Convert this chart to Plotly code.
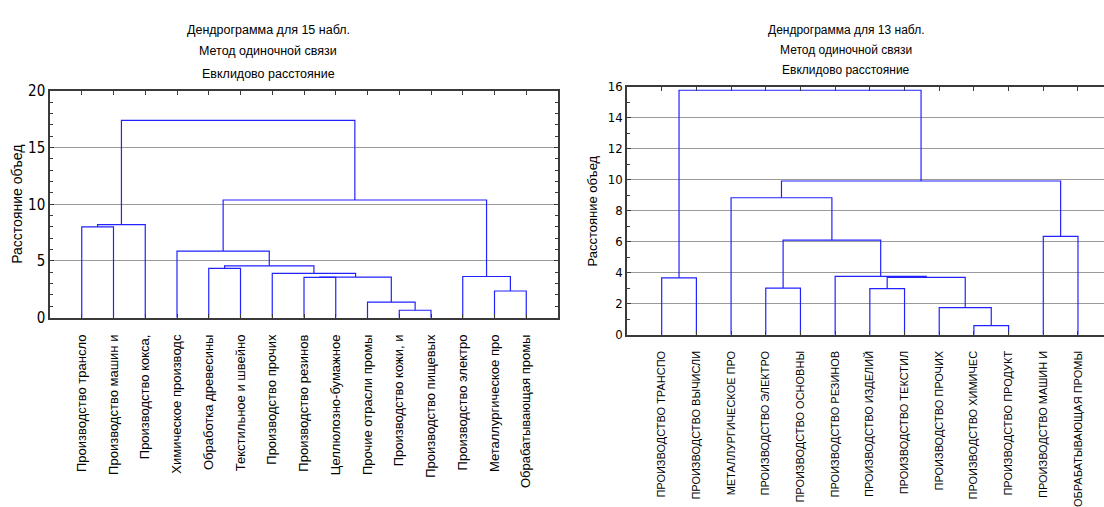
import plotly.graph_objects as go

# ---------------- data ----------------
left_labels = ["Производство трансло", "Производство машин и", "Производство кокса,",
               "Химическое производс", "Обработка древесины", "Текстильное и швейно",
               "Производство прочих", "Производство резинов", "Целлюлозно-бумажное",
               "Прочие отрасли промы", "Производство кожи, и", "Производство пищевых",
               "Производство электро", "Металлургическое про", "Обрабатывающая промы"]
# merges: (cluster a, cluster b, linkage distance); new clusters numbered from n
left_merges = [(10, 11, 0.65), (9, 15, 1.36), (13, 14, 2.35), (7, 8, 3.55),
               (18, 16, 3.57), (12, 17, 3.63), (6, 19, 3.91), (4, 5, 4.34),
               (22, 21, 4.57), (3, 23, 5.87), (0, 1, 8.0), (25, 2, 8.2),
               (24, 20, 10.38), (26, 27, 17.4)]

right_labels = ["ПРОИЗВОДСТВО ТРАНСПО", "ПРОИЗВОДСТВО ВЫЧИСЛИ", "МЕТАЛЛУРГИЧЕСКОЕ ПРО",
                "ПРОИЗВОДСТВО ЭЛЕКТРО", "ПРОИЗВОДСТВО ОСНОВНЫ", "ПРОИЗВОДСТВО РЕЗИНОВ",
                "ПРОИЗВОДСТВО ИЗДЕЛИЙ", "ПРОИЗВОДСТВО ТЕКСТИЛ", "ПРОИЗВОДСТВО ПРОЧИХ",
                "ПРОИЗВОДСТВО ХИМИЧЕС", "ПРОИЗВОДСТВО ПРОДУКТ", "ПРОИЗВОДСТВО МАШИН И",
                "ОБРАБАТЫВАЮЩАЯ ПРОМЫ"]
right_merges = [(9, 10, 0.58), (8, 13, 1.75), (6, 7, 2.97), (3, 4, 3.01),
                (0, 1, 3.67), (15, 14, 3.70), (5, 18, 3.76), (16, 19, 6.10),
                (11, 12, 6.35), (2, 20, 8.84), (22, 21, 9.92), (17, 23, 15.78)]

left_titles = ["Дендрограмма для 15 набл.", "Метод одиночной связи", "Евклидово расстояние"]
right_titles = ["Дендрограмма для 13 набл.", "Метод одиночной связи", "Евклидово расстояние"]
y_title = "Расстояние объед"

# ---------------- helpers ----------------
def dendro_xy(n, merges):
    pos = {i: i + 1 for i in range(n)}
    hgt = {i: 0.0 for i in range(n)}
    xs, ys = [], []
    for k, (a, b, h) in enumerate(merges):
        xa, xb = pos[a], pos[b]
        xs += [xa, xa, xb, xb, None]
        ys += [hgt[a], h, h, hgt[b], None]
        pos[n + k] = (xa + xb) / 2
        hgt[n + k] = h
    return xs, ys

W, H = 1104, 507
NARROW = "DejaVu Sans Condensed, Liberation Sans Narrow, sans-serif"
SANS = "Liberation Sans, Arial, sans-serif"
BLUE = "#2222ff"
AXC = "#3a3a3a"
GRID = "#9a9a9a"

fig = go.Figure()
lx, ly = dendro_xy(len(left_labels), left_merges)
rx, ry = dendro_xy(len(right_labels), right_merges)
fig.add_trace(go.Scatter(x=lx, y=ly, mode="lines", line=dict(color=BLUE, width=1.2),
                         xaxis="x", yaxis="y", hoverinfo="skip", showlegend=False))
fig.add_trace(go.Scatter(x=rx, y=ry, mode="lines", line=dict(color=BLUE, width=1.2),
                         xaxis="x2", yaxis="y2", hoverinfo="skip", showlegend=False))

def px_x(p):
    return p / W

def px_y(p):
    return 1 - p / H

common_x = dict(showline=True, linecolor=AXC, linewidth=1.5, mirror="ticks",
                ticks="inside", ticklen=4, tickcolor=AXC, showgrid=False,
                zeroline=False, tickangle=-90, ticklabelstandoff=10, fixedrange=True)
common_y = dict(showline=True, linecolor=AXC, linewidth=1.5, ticks="inside",
                ticklen=4, tickcolor=AXC, showgrid=True, gridcolor=GRID, gridwidth=1,
                zeroline=False, fixedrange=True)

fig.update_layout(
    width=W, height=H, margin=dict(l=0, r=0, t=0, b=0),
    paper_bgcolor="white", plot_bgcolor="white", showlegend=False,
    xaxis=dict(domain=[px_x(50), px_x(558)], range=[0, len(left_labels) + 1],
               tickvals=list(range(1, len(left_labels) + 1)), ticktext=left_labels,
               tickfont=dict(family=SANS, size=13, color="black"), anchor="y", **common_x),
    yaxis=dict(domain=[px_y(320), px_y(85)], range=[0, 20], dtick=5, mirror="ticks",
               minor=dict(dtick=1, ticks="inside", ticklen=3, tickcolor=AXC, showgrid=False),
               tickfont=dict(family=NARROW, size=15, color="black"), anchor="x", **common_y),
    xaxis2=dict(domain=[px_x(627), 1.0], range=[0, 13.75],
                tickvals=list(range(1, len(right_labels) + 1)), ticktext=right_labels,
                tickfont=dict(family=SANS, size=11, color="black"), anchor="y2", **common_x),
    yaxis2=dict(domain=[px_y(337.7), px_y(80.7)], range=[0, 16], dtick=2, mirror=False,
                minor=dict(dtick=1, ticks="inside", ticklen=3, tickcolor=AXC, showgrid=False),
                tickfont=dict(family=NARROW, size=13, color="black"), anchor="x2", **common_y),
)

ann = []
for txt, yy in zip(left_titles, [22, 44, 67]):
    ann.append(dict(text=txt, x=px_x(268), y=px_y(yy), xref="paper", yref="paper",
                    showarrow=False, xanchor="center", yanchor="middle",
                    font=dict(family=SANS, size=12.5, color="black")))
for txt, yy in zip(right_titles, [22, 43, 63]):
    ann.append(dict(text=txt, x=px_x(846), y=px_y(yy), xref="paper", yref="paper",
                    showarrow=False, xanchor="center", yanchor="middle",
                    font=dict(family=SANS, size=12, color="black")))
ann.append(dict(text=y_title, x=px_x(17), y=px_y(203), xref="paper", yref="paper",
                showarrow=False, textangle=-90, xanchor="center", yanchor="middle",
                font=dict(family=SANS, size=14, color="black")))
ann.append(dict(text=y_title, x=px_x(593), y=px_y(210), xref="paper", yref="paper",
                showarrow=False, textangle=-90, xanchor="center", yanchor="middle",
                font=dict(family=SANS, size=13, color="black")))
fig.update_layout(annotations=ann)

fig.write_html("out.html")
